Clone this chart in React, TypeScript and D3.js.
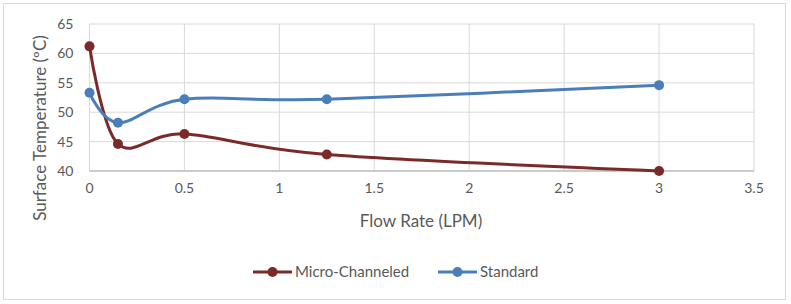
import React from "react";
import * as d3 from "d3";

const flowRates = [0, 0.15, 0.5, 1.25, 3];
const microChanneled = [61.2, 44.6, 46.3, 42.8, 40.0];
const standard = [53.3, 48.2, 52.2, 52.2, 54.6];
const xTicks = [0, 0.5, 1, 1.5, 2, 2.5, 3, 3.5];
const yTicks = [40, 45, 50, 55, 60, 65];

const W = 791;
const H = 304;
const m = { top: 24, right: 37, bottom: 133, left: 89.5 };
const font = "Lato, 'Open Sans', sans-serif";

const series = [
  { name: "Micro-Channeled", values: microChanneled, color: "#7B2A2A" },
  { name: "Standard", values: standard, color: "#4A7EBB" },
];

export default function App() {
  const x = d3.scaleLinear([0, 3.5], [m.left, W - m.right]);
  const y = d3.scaleLinear([40, 65], [H - m.bottom, m.top]);
  const line = d3
    .line<number>()
    .x((_, i) => x(flowRates[i]))
    .y((d) => y(d))
    .curve(d3.curveCardinal.tension(0));

  return (
    <svg
      width={W}
      height={H}
      style={{ position: "absolute", left: 0, top: 0 }}
    >
      <rect x={0} y={0} width={W} height={H} fill="#fff" />
      <rect x={3.5} y={3.5} width={782} height={296} fill="#fff" stroke="#D9D9D9" />
      <g stroke="#D9D9D9" strokeWidth={1}>
        {yTicks.map((t) => (
          <line key={t} x1={x(0)} x2={x(3.5)} y1={y(t)} y2={y(t)} />
        ))}
        {xTicks.map((t) => (
          <line key={t} x1={x(t)} x2={x(t)} y1={y(65)} y2={y(40)} />
        ))}
      </g>
      <line x1={x(0)} x2={x(3.5)} y1={y(40)} y2={y(40)} stroke="#BFBFBF" strokeWidth={1.5} />
      <g fontFamily={font} fontSize={14} fill="#595959">
        {yTicks.map((t) => (
          <text key={t} x={x(0) - 16} y={y(t)} dy="0.35em" textAnchor="end">
            {t}
          </text>
        ))}
        {xTicks.map((t) => (
          <text key={t} x={x(t)} y={y(40) + 22} textAnchor="middle">
            {t}
          </text>
        ))}
      </g>
      <text
        x={421}
        y={227}
        textAnchor="middle"
        fontFamily={font}
        fontSize={17}
        fill="#595959"
      >
        Flow Rate (LPM)
      </text>
      <text
        transform={`translate(46,128) rotate(-90)`}
        textAnchor="middle"
        fontFamily={font}
        fontSize={17}
        fill="#595959"
      >
        Surface Temperature (ºC)
      </text>
      {series.map((s) => (
        <g key={s.name}>
          <path d={line(s.values) ?? ""} fill="none" stroke={s.color} strokeWidth={3} />
          {s.values.map((v, i) => (
            <circle key={i} cx={x(flowRates[i])} cy={y(v)} r={5} fill={s.color} />
          ))}
        </g>
      ))}
      <g fontFamily={font} fontSize={15} fill="#595959">
        {series.map((s, i) => {
          const lx = i === 0 ? 253 : 438;
          return (
            <g key={s.name} transform={`translate(${lx},272)`}>
              <line x1={0} x2={39} y1={0} y2={0} stroke={s.color} strokeWidth={3} />
              <circle cx={19.5} cy={0} r={5} fill={s.color} />
              <text x={42} y={0} dy="0.35em">
                {s.name}
              </text>
            </g>
          );
        })}
      </g>
    </svg>
  );
}
